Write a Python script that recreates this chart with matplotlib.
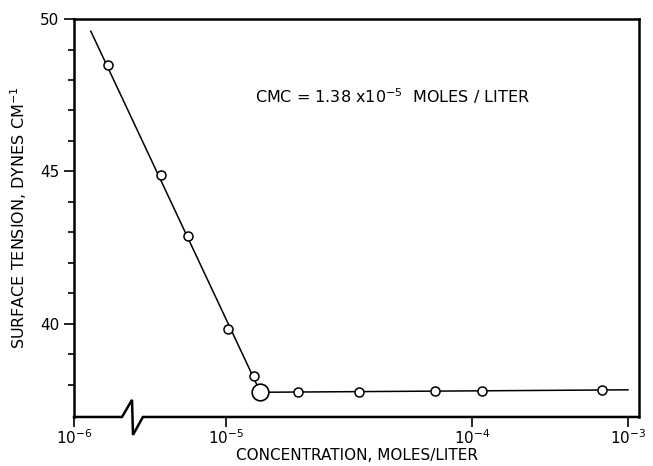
import numpy as np
import matplotlib
matplotlib.use("Agg")
import matplotlib.pyplot as plt

# data
conc = [1.67e-6, 3.73e-6, 5.62e-6, 1.02e-5, 1.30e-5,
        1.96e-5, 3.47e-5, 7.08e-5, 1.16e-4, 6.8e-4]
tension = [48.5, 44.9, 42.9, 39.85, 38.3,
           37.76, 37.78, 37.8, 37.8, 37.83]
cmc = 1.38e-5
cmc_tension = 37.76

# fitted lines drawn in the original
fit_x = [1.29e-6, cmc, 1.0e-3]
fit_y = [49.6, cmc_tension, 37.84]

xticks = [1e-6, 1e-5, 1e-4, 1e-3]
xticklabels = [r"$10^{-6}$", r"$10^{-5}$", r"$10^{-4}$", r"$10^{-3}$"]
yticks = [40, 45, 50]

# hand drawn axis: decades are not equally spaced (broken axis below 1e-5)
dec_log = np.array([-7.0, -6.0, -5.0, -4.0, -3.0, -2.0])
dec_pos = np.array([-152.0, 0.0, 152.0, 398.0, 554.0, 709.0])


def forward(x):
    lx = np.log10(np.clip(x, 1e-12, None))
    return np.interp(lx, dec_log, dec_pos, left=-152.0, right=709.0)


def inverse(u):
    return 10 ** np.interp(u, dec_pos, dec_log)


plt.rcParams["font.family"] = "DejaVu Sans"

fig = plt.figure(figsize=(6.53, 4.66), dpi=100)
ax = fig.add_axes([0.1133, 0.1052, 0.8653, 0.854])

ax.set_xscale("function", functions=(forward, inverse))
ax.set_xlim(1e-6, 1.178e-3)
ax.set_ylim(36.95, 50)

ax.plot(fit_x, fit_y, color="black", lw=1.1, zorder=2)
ax.plot(conc, tension, "o", ms=6.5, mfc="white", mec="black", mew=1.1, zorder=3)
ax.plot([cmc], [cmc_tension], "o", ms=12, mfc="white", mec="black", mew=1.2, zorder=3)

ax.text(0.32, 0.79, r"CMC = 1.38 x10$^{-5}$  MOLES / LITER",
        transform=ax.transAxes, fontsize=11.5)

ax.set_xticks(xticks)
ax.set_xticklabels(xticklabels, fontsize=11)
ax.xaxis.set_minor_locator(matplotlib.ticker.NullLocator())
ax.set_yticks(yticks)
ax.set_yticks(np.arange(38, 50), minor=True)
ax.tick_params(axis="y", which="major", length=7, width=1.2, labelsize=11, direction="out")
ax.tick_params(axis="y", which="minor", length=4, width=1.2, direction="out")
ax.tick_params(axis="x", which="major", length=7, width=1.2, direction="out", pad=1)

ax.set_xlabel("CONCENTRATION, MOLES/LITER", fontsize=11, labelpad=1)
ax.set_ylabel(r"SURFACE TENSION, DYNES CM$^{-1}$", fontsize=11.5, labelpad=8)

for side in ["left", "top", "right"]:
    ax.spines[side].set_linewidth(1.8)
ax.spines["bottom"].set_visible(False)

# bottom axis line with the break symbol
bx = [0, 0.085, 0.1027, 0.1044, 0.122, 1.0]
by = [0, 0, 0.043, -0.045, 0, 0]
ax.plot(bx, by, color="black", lw=1.8, transform=ax.transAxes, clip_on=False,
        solid_joinstyle="miter")

fig.savefig("out.png", dpi=100)
